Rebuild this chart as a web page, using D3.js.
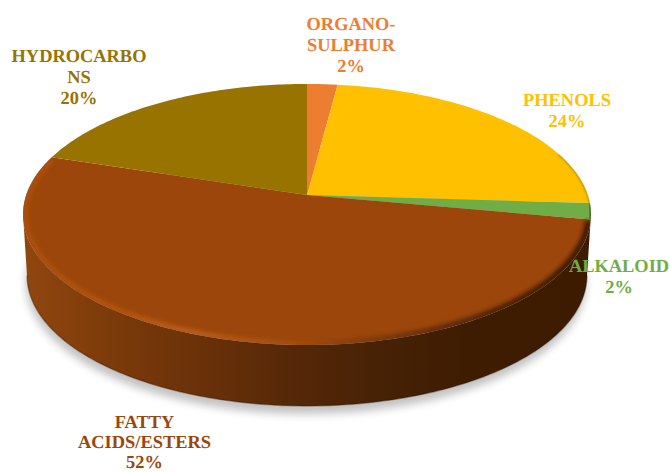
<!DOCTYPE html>
<html>
<head>
<meta charset="utf-8">
<script src="https://cdn.jsdelivr.net/npm/d3@7"></script>
<style>
  html, body { margin: 0; padding: 0; background: #fff; }
  svg { display: block; }
  text { font-family: "Liberation Serif", serif; font-weight: bold; font-size: 18.4px; text-anchor: middle; text-rendering: geometricPrecision; }
</style>
</head>
<body>
<svg id="chart" width="670" height="472"></svg>
<script>
// Composition of the extract, in percent, clockwise from twelve o'clock
const categories = ["ORGANO-SULPHUR", "PHENOLS", "ALKALOID", "FATTY ACIDS/ESTERS", "HYDROCARBONS"];
const shares = [2, 24, 2, 52, 20];
const labelLines = [["ORGANO-", "SULPHUR"], ["PHENOLS"], ["ALKALOID"], ["FATTY", "ACIDS/ESTERS"], ["HYDROCARBO", "NS"]];
const sliceColors = ["#ed7d31", "#ffc000", "#70ad47", "#9c460b", "#997300"];
const labelAnchors = [[351, 30], [567, 106], [619, 272], [144.5, 428], [79, 62]];
const labelSteps = [21, 21, 21, 20, 21];

const width = 670, height = 472;
const svg = d3.select("#chart").attr("viewBox", [0, 0, width, height]);

// Tilted disc: the circle is projected with a mild perspective, so the hub
// sits above the middle of the visible ellipse.
const hub = { x: 307, y: 195 };
const persp = 0.149;
const xScale = d3.scaleLinear().domain([-1, 1]).range([-280.8, 280.8]);
const yScale = d3.scaleLinear().domain([-1, 1]).range([127.6, -127.6]);
const wallDepth = 61;
const baseShrink = 0.986;

function project(angle, r = 1) {
  const u = r * Math.sin(angle), v = r * Math.cos(angle), w = 1 + persp * v;
  return [hub.x + xScale(u) / w, hub.y + yScale(v) / w];
}
const toBase = ([x, y]) => [hub.x + (x - hub.x) * baseShrink, y + wallDepth];

function arcPoints(a0, a1, r = 1) {
  const n = Math.max(2, Math.ceil(Math.abs(a1 - a0) * 60));
  return d3.range(n + 1).map(i => project(a0 + (a1 - a0) * i / n, r));
}

const line = d3.line();
const slices = d3.pie().sort(null).value(d => d)(shares);

const defs = svg.append("defs");

function hGradient(id, stops) {
  const g = defs.append("linearGradient").attr("id", id)
    .attr("gradientUnits", "userSpaceOnUse")
    .attr("x1", 23).attr("x2", 591).attr("y1", 0).attr("y2", 0);
  stops.forEach(([x, c]) => g.append("stop").attr("offset", (x - 23) / 568).attr("stop-color", c));
}
hGradient("wallShade", [[23, "#91460e"], [110, "#7c3b0a"], [200, "#6a3109"], [300, "#542708"], [400, "#442004"], [470, "#3e1c02"], [591, "#3d1b00"]]);
hGradient("rimShade", [[23, "#ab500e"], [120, "#b4540f"], [190, "#bd5f1e"], [290, "#a44e10"], [370, "#7a390a"], [450, "#55280a"], [530, "#3e1c02"], [591, "#321600"]]);

defs.append("filter").attr("id", "soft").attr("x", "-10%").attr("y", "-10%").attr("width", "120%").attr("height", "125%")
  .append("feGaussianBlur").attr("stdDeviation", 4.5);
defs.append("filter").attr("id", "softRim").attr("x", "-5%").attr("y", "-5%").attr("width", "110%").attr("height", "110%")
  .append("feGaussianBlur").attr("stdDeviation", 2);
defs.append("filter").attr("id", "softEdge").attr("x", "-5%").attr("y", "-5%").attr("width", "110%").attr("height", "110%")
  .append("feGaussianBlur").attr("stdDeviation", 1);

const leftLimit = 2 * Math.PI - Math.acos(-persp);
const rightLimit = Math.acos(-persp);

// Ground shadow under the disc
const fullBase = arcPoints(0, 2 * Math.PI).map(toBase);
svg.append("path")
  .attr("d", line(fullBase.map(([x, y]) => [x - 1, y + 8])) + "Z")
  .attr("fill", "#000").attr("opacity", 0.24).attr("filter", "url(#soft)");

// Cylinder wall: front silhouette of the top face closed along the base
const frontTop = arcPoints(rightLimit, leftLimit);
const frontBase = arcPoints(leftLimit, rightLimit).map(toBase);
svg.append("path")
  .attr("d", line(frontTop.concat(frontBase)) + "Z")
  .attr("fill", "url(#wallShade)");
svg.append("path")
  .attr("d", line(frontBase))
  .attr("fill", "none").attr("stroke", "#2a1200").attr("stroke-opacity", 0.35).attr("stroke-width", 1.4);

// Top face slices
const faces = svg.append("g");
slices.forEach((s, i) => {
  faces.append("path")
    .attr("d", line([[hub.x, hub.y], ...arcPoints(s.startAngle, s.endAngle)]) + "Z")
    .attr("fill", sliceColors[i]);
});

// Bevel along the outer rim, kept inside the top face
defs.append("clipPath").attr("id", "faceClip").append("path")
  .attr("d", line(arcPoints(0, 2 * Math.PI)) + "Z");
const fatty = slices[3];
const rimGroup = svg.append("g").attr("clip-path", "url(#faceClip)");
rimGroup.append("path")
  .attr("d", line(arcPoints(fatty.startAngle + 0.03, fatty.endAngle - 0.03, 0.993)))
  .attr("fill", "none").attr("stroke", "url(#rimShade)").attr("stroke-width", 6)
  .attr("stroke-linecap", "round")
  .attr("filter", "url(#softRim)");

// Shaded rim on the small right-hand slices
const alk = slices[2], phe = slices[1];
rimGroup.append("path")
  .attr("d", line(arcPoints(alk.startAngle, alk.endAngle, 1)))
  .attr("fill", "none").attr("stroke", "#3e5f28").attr("stroke-width", 3).attr("filter", "url(#softEdge)");
rimGroup.append("path")
  .attr("d", line(arcPoints(phe.startAngle + 1.1, phe.endAngle, 1)))
  .attr("fill", "none").attr("stroke", "#b58a08").attr("stroke-width", 2).attr("filter", "url(#softEdge)");

// Category labels with their percentages
slices.forEach((s, i) => {
  const lines = labelLines[i].concat(`${shares[i]}%`);
  const t = svg.append("text").attr("fill", sliceColors[i]);
  lines.forEach((txt, k) => {
    t.append("tspan").attr("x", labelAnchors[i][0]).attr("y", labelAnchors[i][1] + k * labelSteps[i]).text(txt);
  });
});
</script>
</body>
</html>
